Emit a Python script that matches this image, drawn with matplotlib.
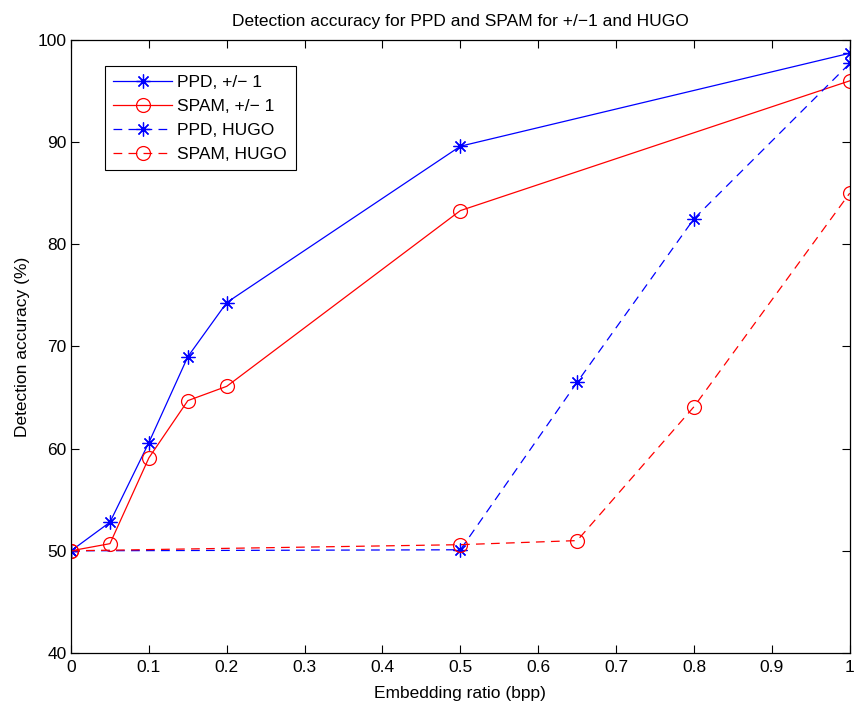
import matplotlib
matplotlib.use('Agg')
import matplotlib.pyplot as plt

plt.rcParams['font.family'] = ['Liberation Sans', 'DejaVu Sans']

x_pm1 = [0, 0.05, 0.1, 0.15, 0.2, 0.5, 1.0]
ppd_pm1 = [50.0, 52.8, 60.6, 69.0, 74.3, 89.6, 98.7]
spam_pm1 = [50.0, 50.7, 59.1, 64.7, 66.1, 83.3, 96.0]

x_hugo = [0, 0.5, 0.65, 0.8, 1.0]
ppd_hugo = [50.0, 50.1, 66.5, 82.5, 97.7]
spam_hugo = [50.0, 50.6, 51.0, 64.1, 85.0]

labels = ['PPD, +/\u2212 1', 'SPAM, +/\u2212 1', 'PPD, HUGO', 'SPAM, HUGO']

# matlab style asterisk (plus and cross)
star = (8, 2, 0)
dash = (0, (7, 5))

fig = plt.figure(figsize=(8.6, 7.05), dpi=100)
ax = fig.add_axes([0.0826, 0.0738, 0.9054, 0.8695])

ax.plot(x_pm1, ppd_pm1, '-', color='blue', marker=star, ms=10, lw=0.9, mew=0.9, label=labels[0])
ax.plot(x_pm1, spam_pm1, '-', color='red', marker='o', ms=10, mfc='none', lw=0.9, mew=0.9, label=labels[1])
ax.plot(x_hugo, ppd_hugo, color='blue', ls=dash, marker=star, ms=10, lw=0.9, mew=0.9, label=labels[2])
ax.plot(x_hugo, spam_hugo, color='red', ls=dash, marker='o', ms=10, mfc='none', lw=0.9, mew=0.9, label=labels[3])

ax.set_xlim(0, 1)
ax.set_ylim(40, 100)
ax.set_xticks([0, 0.1, 0.2, 0.3, 0.4, 0.5, 0.6, 0.7, 0.8, 0.9, 1])
ax.set_xticklabels(['0', '0.1', '0.2', '0.3', '0.4', '0.5', '0.6', '0.7', '0.8', '0.9', '1'])
ax.set_yticks(range(40, 101, 10))
ax.tick_params(direction='in', top=True, right=True, length=6, width=0.8, labelsize=12.5, pad=3)
ax.tick_params(axis='x', pad=5)
for s in ax.spines.values():
    s.set_linewidth(0.9)

ax.set_xlabel('Embedding ratio (bpp)', fontsize=12.5, labelpad=8)
ax.set_ylabel('Detection accuracy (%)', fontsize=12.5, labelpad=6)
ax.set_title('Detection accuracy for PPD and SPAM for +/\u22121 and HUGO', fontsize=12.5, pad=10)

leg = ax.legend(loc='upper left', bbox_to_anchor=(0.043, 0.957), borderaxespad=0, fontsize=12.5,
                frameon=True, fancybox=False, edgecolor='black', framealpha=1, handlelength=3.4,
                borderpad=0.5, labelspacing=0.5, handletextpad=0.3)
leg.get_frame().set_linewidth(0.8)

fig.savefig('out.png', dpi=100)
